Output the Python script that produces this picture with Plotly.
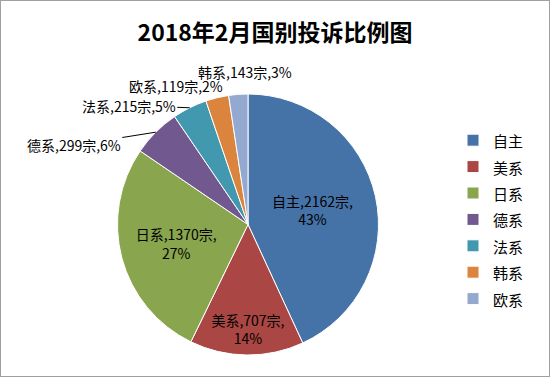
import math
import plotly.graph_objects as go

categories = ["自主", "美系", "日系", "德系", "法系", "韩系", "欧系"]
counts = [2162, 707, 1370, 299, 215, 143, 119]
pct_labels = ["43%", "14%", "27%", "6%", "5%", "3%", "2%"]
colors = ["#4572A7", "#AA4643", "#89A54E", "#71588F", "#4198AF", "#DB843D", "#93A9CF"]

W, H = 550, 377
cx_px, cy_px, r_px = 248.0, 224.5, 130.5
dom_x = [(cx_px - r_px) / W, (cx_px + r_px) / W]
dom_y = [(H - cy_px - r_px) / H, (H - cy_px + r_px) / H]

inside = [True, True, True, False, False, False, False]
texts = [f"{c},{v}宗,<br>{p}" if ins else "" for c, v, p, ins in zip(categories, counts, pct_labels, inside)]
legend_names = [f'<span style="font-size:15px">{c}</span>' for c in categories]

FONT = "Noto Sans CJK SC, Noto Sans, sans-serif"

fig = go.Figure(go.Pie(
    labels=legend_names,
    values=counts,
    text=texts,
    texttemplate="%{text}",
    textposition="inside",
    insidetextorientation="horizontal",
    textfont=dict(family=FONT, size=14, color="#000000"),
    marker=dict(colors=colors, line=dict(color="#ffffff", width=1)),
    sort=False,
    direction="clockwise",
    rotation=0,
    domain=dict(x=dom_x, y=dom_y),
    hovertemplate="%{text}<extra></extra>",
))

# outside labels for small slices, anchored at slice edge mid-angle
offsets = {"德系": (-82, 13, True), "法系": (-61, -2, True), "韩系": (28, -26, False), "欧系": (-62, -8, False)}
total = sum(counts)
cum = 0
annotations = []
for c, v, p in zip(categories, counts, pct_labels):
    mid = (cum + v / 2) / total * 2 * math.pi
    cum += v
    if c not in offsets:
        continue
    ax, ay, arrow = offsets[c]
    ex = cx_px + r_px * math.sin(mid)
    ey = cy_px - r_px * math.cos(mid)
    label = f"{c},{v}宗,{p}"
    if arrow:
        annotations.append(dict(x=ex / W, y=(H - ey) / H, xref="paper", yref="paper",
                                text=label, showarrow=True, arrowhead=0, arrowwidth=1,
                                arrowcolor="#000000", ax=ax, ay=ay,
                                font=dict(family=FONT, size=14, color="#000000")))
    else:
        annotations.append(dict(x=(ex + ax) / W, y=(H - ey - ay) / H, xref="paper", yref="paper",
                                text=label, showarrow=False, xanchor="center", yanchor="middle",
                                font=dict(family=FONT, size=14, color="#000000")))

fig.update_layout(
    width=W, height=H,
    margin=dict(l=0, r=0, t=0, b=0),
    paper_bgcolor="#ffffff",
    plot_bgcolor="#ffffff",
    title=dict(text="<b>2018年2月国别投诉比例图</b>", x=0.5, xanchor="center",
               y=1 - 33 / H, yanchor="middle",
               font=dict(family=FONT, size=23, color="#000000")),
    legend=dict(x=453 / W, y=1 - 122 / H, xanchor="left", yanchor="top",
                font=dict(family=FONT, size=18, color="#000000"),
                bgcolor="rgba(0,0,0,0)", itemclick=False),
    annotations=annotations,
    shapes=[dict(type="rect", xref="paper", yref="paper", x0=0, y0=0, x1=1, y1=1,
                 line=dict(color="#a0a0a0", width=2))],
)

fig.write_html("out.html", config={"displayModeBar": False},
               post_script="document.body.style.margin='0';")
